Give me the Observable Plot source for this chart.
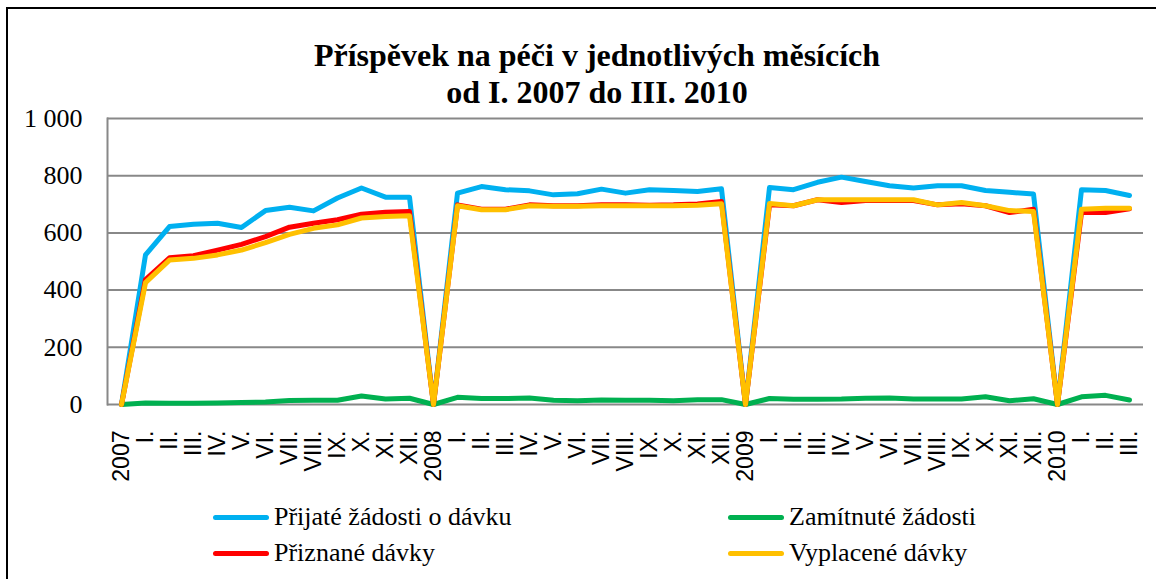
<!DOCTYPE html>
<html><head><meta charset="utf-8">
<script src="https://cdn.jsdelivr.net/npm/d3@7"></script>
<script src="https://cdn.jsdelivr.net/npm/@observablehq/plot@0.6"></script>
<style>
html,body{margin:0;padding:0;background:#fff;}
body{width:1156px;height:579px;overflow:hidden;position:relative;font-family:"Liberation Serif","Times New Roman",serif;color:#000}
#border{position:absolute;left:6px;top:7px;width:1180px;height:620px;border:2px solid #000;box-sizing:border-box;pointer-events:none}
#title{position:relative;height:112px;}
.t{position:absolute;left:0;width:1194px;text-align:center;font-family:"Liberation Serif","Times New Roman",serif;font-weight:bold;font-size:32px;line-height:1;white-space:nowrap}
#chart{height:388px}
#chart svg{display:block}
#chart g[aria-label="y-axis tick label"] text{font-family:"Liberation Serif","Times New Roman",serif !important;font-size:26px !important}
#chart g[aria-label="x-axis tick label"] text{font-family:"Liberation Sans",Arial,sans-serif !important;font-size:23px !important}
#legend{position:relative;height:79px}
.li{position:absolute;display:flex;align-items:center;height:30px;font-family:"Liberation Serif","Times New Roman",serif;font-size:26px;line-height:30px;white-space:nowrap}
.sw{display:inline-block;width:56px;height:5px;border-radius:3px;margin-right:5px}
</style>
</head><body>
<div id="title"><div class="t" style="top:39px">Příspěvek na péči v jednotlivých měsících</div><div class="t" style="top:76px">od I. 2007 do III. 2010</div></div>
<div id="chart"></div>
<div id="legend"></div>
<div id="border"></div>
<script>
const tickLabels = ["2007","I.","II.","III.","IV.","V.","VI.","VII.","VIII.","IX.","X.","XI.","XII.",
  "2008","I.","II.","III.","IV.","V.","VI.","VII.","VIII.","IX.","X.","XI.","XII.",
  "2009","I.","II.","III.","IV.","V.","VI.","VII.","VIII.","IX.","X.","XI.","XII.",
  "2010","I.","II.","III."];
const yTicks = [0,200,400,600,800,1000];

const prijate = [0,523,622,630,634,619,678,690,677,722,757,725,725,
  0,739,762,751,747,733,737,753,739,751,748,745,754,
  0,759,751,777,795,780,765,757,765,765,748,742,736,
  0,751,748,731];
const zamitnute = [0,5,4,4,5,7,9,14,15,15,30,19,22,
  0,25,21,21,23,15,13,16,15,15,13,17,17,
  0,21,18,18,19,22,23,19,19,19,27,13,20,
  0,27,32,16];
const priznane = [0,437,513,520,540,560,587,620,634,646,665,672,675,
  0,698,683,683,698,695,695,698,698,697,698,701,710,
  0,698,695,716,706,713,713,713,698,702,695,671,683,
  0,671,671,684];
const vyplacene = [0,426,505,511,523,540,566,595,616,628,652,657,660,
  0,695,681,681,695,693,693,695,695,695,695,697,702,
  0,703,695,716,716,716,716,716,698,706,695,678,675,
  0,683,686,686];

const seriesNames = ["Přijaté žádosti o dávku","Zamítnuté žádosti","Přiznané dávky","Vyplacené dávky"];
const seriesColors = ["#00B0F0","#00B050","#FF0000","#FFC000"];
const seriesValues = [prijate, zamitnute, priznane, vyplacene];

const lineMarks = seriesValues.map((vals, k) =>
  Plot.line(vals.map((v, i) => ({i, v})), {
    x: "i", y: "v", stroke: seriesColors[k], strokeWidth: 5,
    strokeLinejoin: "round", strokeLinecap: "round"
  })
);

const chart = Plot.plot({
  width: 1156, height: 388,
  marginLeft: 107, marginRight: 13, marginTop: 6, marginBottom: 96,
  style: {background: "#fff", color: "#000", overflow: "visible"},
  x: {type: "point", domain: d3.range(tickLabels.length), padding: 0.5, axis: null, label: null},
  y: {domain: [0, 1000], axis: null, label: null},
  marks: [
    Plot.gridY(yTicks, {stroke: "#888", strokeOpacity: 1, strokeWidth: 2}),
    Plot.frame({anchor: "left", stroke: "#888", strokeWidth: 2}),
    Plot.axisY(yTicks, {tickSize: 0, tickPadding: 25, label: null, fontSize: 26, fontFamily: "Liberation Serif",
      tickFormat: d => d3.format(",")(d).replace(",", "\u00a0")}),
    Plot.axisX({tickSize: 0, tickRotate: -90, tickPadding: 26, label: null, fontSize: 23, fontFamily: "Liberation Sans",
      tickFormat: i => tickLabels[i]}),
    ...lineMarks
  ]
});
document.getElementById("chart").appendChild(chart);

const legendPos = [[213, 2], [728, 2], [213, 38], [728, 38]];
const legend = document.getElementById("legend");
seriesNames.forEach((name, k) => {
  const d = document.createElement("div");
  d.className = "li";
  d.style.left = legendPos[k][0] + "px";
  d.style.top = legendPos[k][1] + "px";
  const s = document.createElement("span");
  s.className = "sw";
  s.style.background = seriesColors[k];
  d.appendChild(s);
  d.appendChild(document.createTextNode(name));
  legend.appendChild(d);
});
</script>
</body></html>
